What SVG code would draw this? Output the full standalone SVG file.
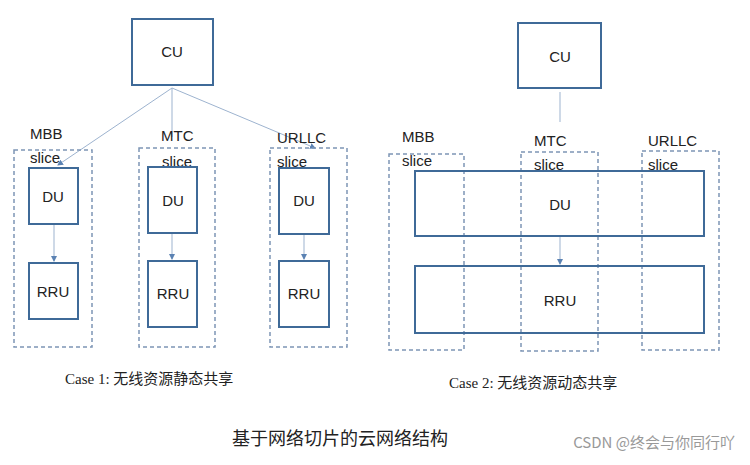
<svg xmlns="http://www.w3.org/2000/svg" width="750" height="465" viewBox="0 0 750 465">
<style>
.box{fill:#fff;stroke:#3f6a98;stroke-width:2}
.dash{fill:none;stroke:#7d95b5;stroke-width:1.5;stroke-dasharray:4 3}
.ln{stroke:#9db3cf;stroke-width:1;fill:none}
.t{font-family:"Liberation Sans",Arial,sans-serif;font-size:15px;fill:#222}
.c{font-family:"Liberation Serif","Noto Sans CJK SC",serif;font-size:15px;fill:#222}
</style>
<defs><marker id="a" markerWidth="6" markerHeight="6" refX="5" refY="3" orient="auto"><path d="M0,0L6,3L0,6z" fill="#5b82b3"/></marker></defs>
<rect width="750" height="465" fill="#fff"/>
<g id="connectors">
<line class="ln" x1="172" y1="88" x2="58" y2="165" marker-end="url(#a)"/>
<line class="ln" x1="172" y1="88" x2="172" y2="137"/>
<line class="ln" x1="172" y1="88" x2="315" y2="148" marker-end="url(#a)"/>
<line class="ln" x1="54" y1="224" x2="54" y2="261" marker-end="url(#a)"/>
<line class="ln" x1="172" y1="233" x2="172" y2="259" marker-end="url(#a)"/>
<line class="ln" x1="304" y1="234" x2="304" y2="259" marker-end="url(#a)"/>
<line class="ln" x1="560" y1="92" x2="560" y2="122"/>
<line class="ln" x1="560" y1="237" x2="560" y2="264" marker-end="url(#a)"/>
</g>
<g id="case1">
<g id="cu1"><rect class="box" x="132" y="19" width="81" height="66"/><text class="t" x="172" y="57" text-anchor="middle">CU</text></g>
<g id="mbb1"><rect class="dash" x="14" y="150" width="78" height="197"/><text class="t" x="30" y="139">MBB</text><text class="t" x="30" y="163">slice</text></g>
<g id="mtc1"><rect class="dash" x="139" y="148" width="76" height="199"/><text class="t" x="161" y="141">MTC</text><text class="t" x="162" y="167">slice</text></g>
<g id="urllc1"><rect class="dash" x="270" y="148" width="77" height="199"/><text class="t" x="277" y="143">URLLC</text><text class="t" x="277" y="167">slice</text></g>
<g id="du1a"><rect class="box" x="29" y="168" width="49" height="56"/><text class="t" x="53" y="202" text-anchor="middle">DU</text></g>
<g id="rru1a"><rect class="box" x="29" y="263" width="49" height="56"/><text class="t" x="53" y="297" text-anchor="middle">RRU</text></g>
<g id="du1b"><rect class="box" x="148" y="167" width="49" height="66"/><text class="t" x="173" y="206" text-anchor="middle">DU</text></g>
<g id="rru1b"><rect class="box" x="148" y="261" width="49" height="66"/><text class="t" x="173" y="299" text-anchor="middle">RRU</text></g>
<g id="du1c"><rect class="box" x="279" y="168" width="50" height="66"/><text class="t" x="304" y="206" text-anchor="middle">DU</text></g>
<g id="rru1c"><rect class="box" x="279" y="261" width="50" height="66"/><text class="t" x="304" y="299" text-anchor="middle">RRU</text></g>
<text class="c" x="65" y="384">Case 1: 无线资源静态共享</text>
</g>
<g id="case2">
<g id="cu2"><rect class="box" x="518" y="23" width="83" height="65"/><text class="t" x="560" y="62" text-anchor="middle">CU</text></g>
<g id="mbb2"><rect class="dash" x="389" y="154" width="75" height="196"/><text class="t" x="402" y="142">MBB</text><text class="t" x="402" y="166">slice</text></g>
<g id="mtc2"><rect class="dash" x="521" y="152" width="77" height="199"/><text class="t" x="534" y="146">MTC</text><text class="t" x="534" y="170">slice</text></g>
<g id="urllc2"><rect class="dash" x="642" y="151" width="77" height="199"/><text class="t" x="648" y="146">URLLC</text><text class="t" x="648" y="170">slice</text></g>
<g id="du2"><rect class="box" x="415" y="171" width="289" height="65" fill-opacity="0"/><text class="t" x="560" y="210" text-anchor="middle">DU</text></g>
<g id="rru2"><rect class="box" x="415" y="266" width="289" height="67" fill-opacity="0"/><text class="t" x="560" y="306" text-anchor="middle">RRU</text></g>
<text class="c" x="449" y="388">Case 2: 无线资源动态共享</text>
</g>
<text x="340" y="445" text-anchor="middle" style="font-family:'Noto Sans CJK SC',sans-serif;font-size:18px;fill:#222">基于网络切片的云网络结构</text>
<text x="735" y="448" text-anchor="end" style="font-family:'Noto Sans CJK SC',sans-serif;font-size:15px;fill:#999">CSDN @终会与你同行吖</text>
</svg>
